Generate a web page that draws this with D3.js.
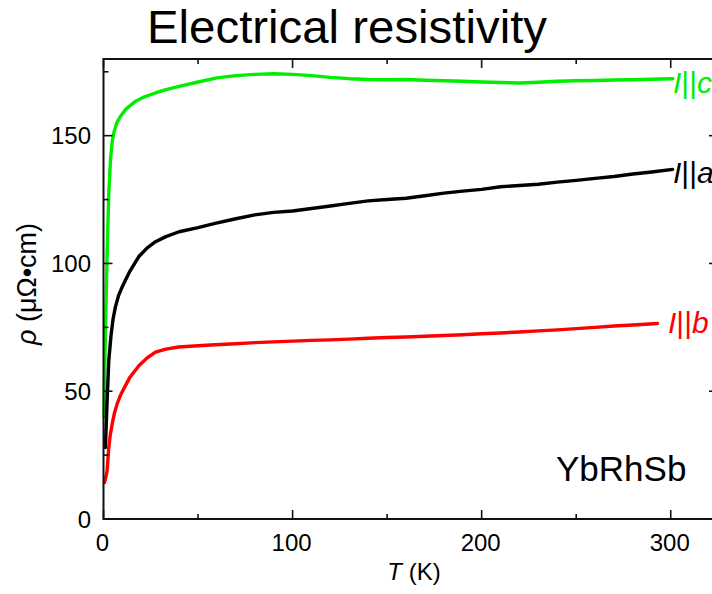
<!DOCTYPE html>
<html><head><meta charset="utf-8">
<script src="https://cdn.jsdelivr.net/npm/d3@7"></script>
<style>
html,body{margin:0;padding:0;background:#fff;}
svg{display:block;font-family:"Liberation Sans",Arial,sans-serif;}
</style></head>
<body><svg id="c" width="712" height="594"></svg>
<script>
// ---- data ----
const xTicks = [0, 100, 200, 300];
const yTicks = [0, 50, 100, 150];
const T_c = [0.3, 0.8, 1.5, 2.2, 2.8, 3.7, 4.5, 5.4, 7, 9, 12, 17, 22, 27.5, 33, 40, 50, 60, 70, 80, 90, 100, 110, 120, 130, 140, 150, 160, 170, 180, 190, 200, 210, 220, 230, 240, 250, 260, 270, 280, 290, 301];
const rho_c = [40, 65, 90, 112, 127.5, 140.5, 147, 151, 155, 157.6, 160.5, 163.5, 165.3, 166.7, 168, 169.3, 171, 172.6, 173.5, 174, 174.2, 174, 173.5, 172.8, 172.3, 172, 171.9, 172, 171.7, 171.5, 171.3, 171, 170.8, 170.6, 170.9, 171.3, 171.5, 171.6, 171.8, 171.9, 172.1, 172.3];
const T_a = [1, 1.5, 2, 2.8, 4, 5, 6.3, 8, 10, 11.6, 14, 18.6, 23, 27.5, 33, 40, 50, 59, 70, 80, 90, 100, 110, 120, 130, 140, 150, 160, 170, 180, 190, 200, 210, 220, 230, 240, 250, 260, 270, 280, 290, 301];
const rho_a = [28, 38, 48, 62, 72, 78, 83, 87.5, 91, 93.4, 97, 102.6, 106, 108.5, 110.5, 112.4, 114, 115.7, 117.5, 119, 120, 120.5, 121.5, 122.5, 123.5, 124.5, 125, 125.5, 126.5, 127.5, 128.3, 129, 130, 130.5, 131, 131.8, 132.5, 133.3, 134, 135, 135.8, 136.8];
const T_b = [0.5, 1, 1.9, 2.8, 3.6, 4.6, 5.8, 7.2, 9, 11.6, 14, 18.7, 23, 27.5, 33, 39.8, 50, 59, 70, 80, 90, 100, 110, 120, 130, 140, 150, 160, 170, 180, 190, 200, 210, 220, 230, 240, 250, 260, 270, 280, 293];
const rho_b = [14.3, 15.5, 18.8, 28, 33, 37.2, 41.5, 45, 48.5, 52.2, 55.5, 60, 63, 65.3, 66.5, 67.3, 67.8, 68.2, 68.6, 69, 69.3, 69.6, 69.9, 70.1, 70.4, 70.7, 71, 71.2, 71.5, 71.8, 72.1, 72.5, 72.8, 73.2, 73.6, 74, 74.5, 75, 75.5, 75.9, 76.5];
const seriesNames = ["c", "a", "b"];
const seriesColors = ["#00ee00", "#000000", "#ff0000"];

const svg = d3.select("#c");
const x = d3.scaleLinear().domain([0, 325]).range([103.5, 718]);
const y = d3.scaleLinear().domain([0, 180]).range([519, 59]);

// title
svg.append("text").attr("x", 347).attr("y", 43).attr("text-anchor", "middle")
  .attr("font-size", 46).attr("textLength", 400).attr("lengthAdjust", "spacingAndGlyphs")
  .attr("fill", "#000").text("Electrical resistivity");

// curves
const series = [
  {T: T_c, r: rho_c}, {T: T_a, r: rho_a}, {T: T_b, r: rho_b}
];
const line = d3.line().x(d => x(d[0])).y(d => y(d[1]));
series.forEach((s, i) => {
  svg.append("path").datum(s.T.map((t, k) => [t, s.r[k]]))
    .attr("d", line).attr("fill", "none").attr("stroke", seriesColors[i])
    .attr("stroke-width", 3.4).attr("stroke-linejoin", "round").attr("stroke-linecap", "round");
});

// axes (inward ticks, all four sides)
const xMinor = d3.range(0, 326, 50).filter(v => !xTicks.includes(v));
const yMinor = d3.range(0, 181, 25).filter(v => !yTicks.includes(v));
const g = svg.append("g").attr("stroke", "#111").attr("stroke-width", 1.6);
g.append("rect").attr("x", x(0)).attr("y", y(180)).attr("width", x(325) - x(0)).attr("height", y(0) - y(180)).attr("fill", "none").attr("stroke-width", 2);
function xt(v, len) {
  g.append("line").attr("x1", x(v)).attr("x2", x(v)).attr("y1", y(0)).attr("y2", y(0) - len);
  g.append("line").attr("x1", x(v)).attr("x2", x(v)).attr("y1", y(180)).attr("y2", y(180) + len);
}
function yt(v, len) {
  g.append("line").attr("y1", y(v)).attr("y2", y(v)).attr("x1", x(0)).attr("x2", x(0) + len);
  g.append("line").attr("y1", y(v)).attr("y2", y(v)).attr("x1", x(325)).attr("x2", x(325) - len);
}
xTicks.forEach(v => xt(v, 9));
xMinor.forEach(v => xt(v, 5));
yTicks.forEach(v => yt(v, 9));
yMinor.forEach(v => yt(v, 5));

// tick labels
svg.append("g").selectAll("text").data(xTicks).join("text")
  .attr("x", d => x(d) - 1).attr("y", 551).attr("text-anchor", "middle")
  .attr("font-size", 24).attr("fill", "#000").text(d => d);
svg.append("g").selectAll("text").data(yTicks).join("text")
  .attr("x", 91).attr("y", d => y(d) + 8.5).attr("text-anchor", "end")
  .attr("font-size", 24).attr("fill", "#000").text(d => d);

// axis titles
const xl = svg.append("text").attr("x", 414).attr("y", 580).attr("text-anchor", "middle")
  .attr("font-size", 24).attr("fill", "#000");
xl.append("tspan").attr("font-style", "italic").text("T");
xl.append("tspan").text(" (K)");
const yl = svg.append("text").attr("transform", "translate(36,284) rotate(-90)")
  .attr("text-anchor", "middle").attr("font-size", 27).attr("fill", "#000");
yl.append("tspan").attr("font-style", "italic").text("ρ");
yl.append("tspan").text(" (μΩ•cm)");

// series labels
const labelPos = [[673, 93], [673, 183], [668, 333]];
seriesNames.forEach((n, i) => {
  const t = svg.append("text").attr("x", labelPos[i][0]).attr("y", labelPos[i][1])
    .attr("font-size", 30).attr("fill", seriesColors[i]);
  t.append("tspan").attr("font-style", "italic").text("I");
  t.append("tspan").text("||");
  t.append("tspan").attr("font-style", "italic").text(n);
});

// sample name
svg.append("text").attr("x", 556).attr("y", 481).attr("font-size", 35).attr("fill", "#000").text("YbRhSb");
</script></body></html>
